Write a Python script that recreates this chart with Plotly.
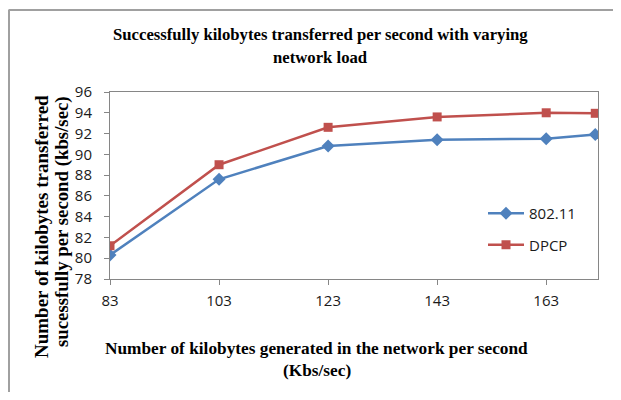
import plotly.graph_objects as go

# data
load_kbs = [83, 103, 123, 143, 163, 172]
ieee_80211 = [80.3, 87.6, 90.8, 91.4, 91.5, 91.9]
dpcp = [81.2, 89.0, 92.6, 93.6, 94.0, 93.95]
x_ticks = [83, 103, 123, 143, 163]

# the page puts the figure 8px in from every edge, so keep it inside the window
OFF = 8
W, H = 621 - 2 * OFF, 400 - 2 * OFF
# plot area in reference-image pixels
L, R, T, B = 110, 598, 92, 279


def px(x):
    return (x - L) / (R - L)


def py(y):
    return (B - y) / (B - T)


fig = go.Figure()
fig.add_trace(go.Scatter(
    x=load_kbs, y=ieee_80211, name="802.11", mode="lines+markers",
    line=dict(color="#4F81BD", width=2.5),
    marker=dict(symbol="diamond", size=10, color="#4F81BD"),
    legendgroup="a",
))
fig.add_trace(go.Scatter(
    x=load_kbs, y=dpcp, name="DPCP", mode="lines+markers",
    line=dict(color="#C0504D", width=2.5),
    marker=dict(symbol="square", size=9, color="#C0504D"),
    legendgroup="b",
))

tick_font = dict(family="Open Sans, Liberation Sans", size=15, color="#1a1a1a")
axis_common = dict(
    showgrid=False, zeroline=False, showline=True, linecolor="#868686",
    linewidth=1, mirror=True, ticks="outside", tickcolor="#868686",
    ticklen=5, tickfont=tick_font,
)

fig.update_layout(
    width=W, height=H,
    margin=dict(l=L - OFF, r=OFF + W - R, t=T - OFF, b=OFF + H - B, autoexpand=False),
    paper_bgcolor="white", plot_bgcolor="white",
    showlegend=True,
    legend=dict(
        x=px(483), y=py(197), xanchor="left", yanchor="top",
        font=tick_font, bgcolor="rgba(0,0,0,0)",
        tracegroupgap=9, itemwidth=36,
    ),
    xaxis=dict(range=[83, 172.5], tickvals=x_ticks, ticklabelstandoff=3, **axis_common),
    yaxis=dict(range=[78, 96], dtick=2, ticklabelstandoff=9, **axis_common),
)

serif = "Liberation Serif"


def label(text, x, y, size, angle=0):
    fig.add_annotation(
        text="<b>" + text + "</b>", x=px(x), y=py(y), xref="paper", yref="paper",
        showarrow=False, xanchor="center", yanchor="middle", textangle=angle,
        font=dict(family=serif, size=size, color="black"),
    )


# chart title
label("Successfully kilobytes transferred per second with varying", 320, 34, 16.7)
label("network load", 320, 58, 16.7)
# x axis title
label("Number of kilobytes generated in the network per second", 316, 348, 17.3)
label("(Kbs/sec)", 317, 370, 17.3)
# y axis title
label("Number of kilobytes transferred", 41, 227, 19, -90)
label("sucessfully per second (kbs/sec)", 62, 222, 18.8, -90)

# chart area border (top and left edges visible)
fig.add_shape(type="line", xref="paper", yref="paper",
              x0=px(8.5), x1=px(OFF + W), y0=py(10), y1=py(10),
              line=dict(color="#A0A0A0", width=2))
fig.add_shape(type="line", xref="paper", yref="paper",
              x0=px(9), x1=px(9), y0=py(10), y1=py(OFF + H),
              line=dict(color="#A0A0A0", width=2))

fig.write_html("out.html", config={"displayModeBar": False})
